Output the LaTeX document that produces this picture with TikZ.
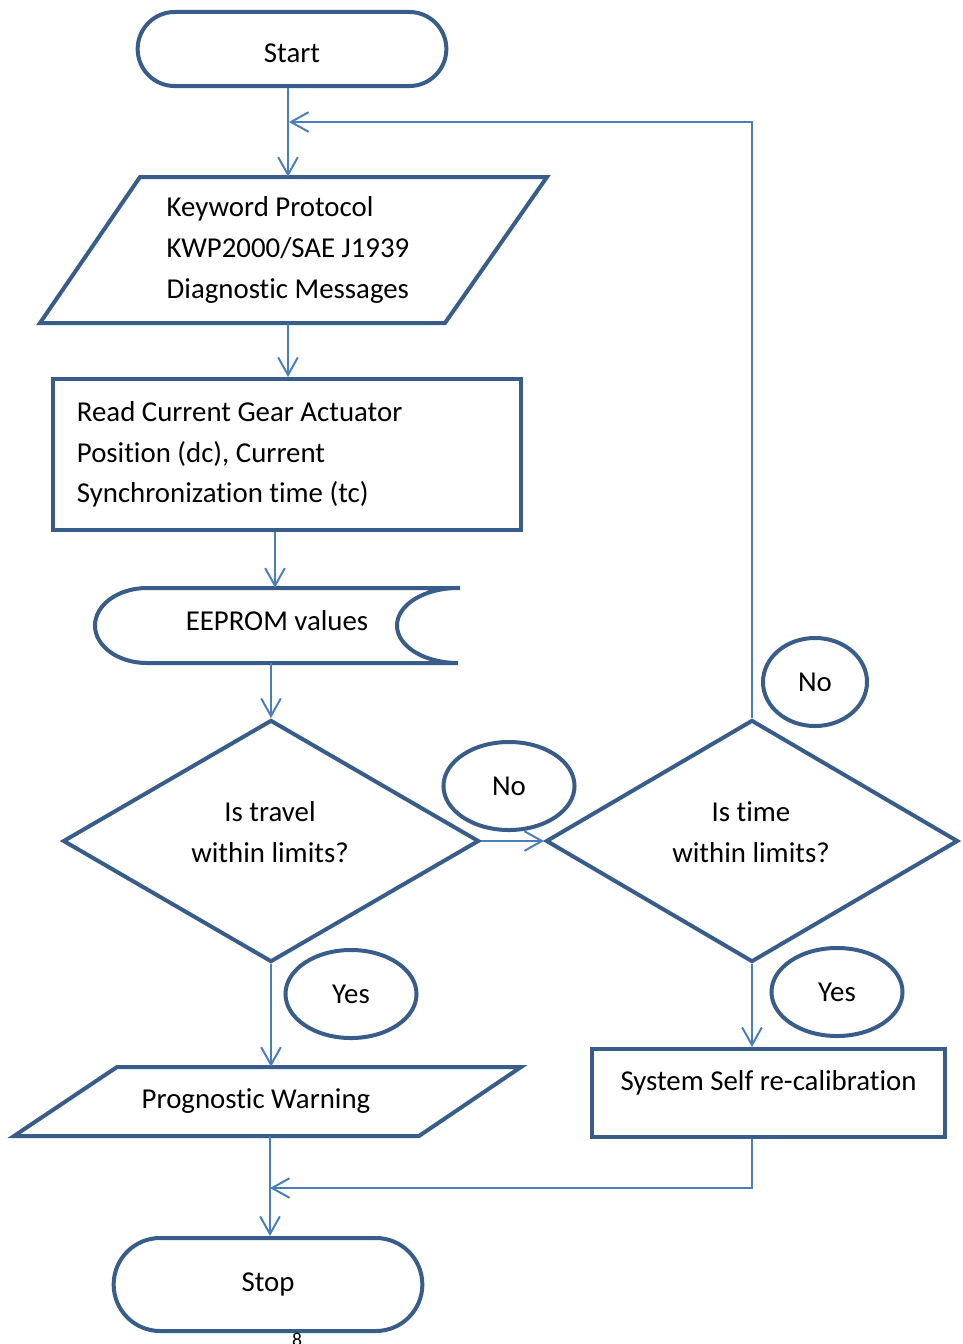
\documentclass[tikz,border=0pt]{standalone}
\usepackage{fontspec}
\setmainfont{Carlito}[Ligatures=NoCommon]
\usepackage{tikz}
\usetikzlibrary{shapes, positioning}
\usetikzlibrary{calc}
\usetikzlibrary{arrows.meta}

\definecolor{shapeblue}{HTML}{385D8A}
\definecolor{lineblue}{HTML}{4A7EBB}

\tikzset{
	outline/.style={draw=shapeblue, line width=2.85pt},
	txt/.style={font=\fontsize{20.5}{29}\selectfont},
	flow/.style={draw=lineblue, line width=1.4pt, -{Straight Barb[length=12.5pt, width=14pt]}},
	term/.style={outline, rounded rectangle, minimum width=7.95cm},
	decision/.style={outline, diamond, aspect=1.72, inner sep=0pt, minimum height=6.05cm},
}

\begin{document}
\begin{tikzpicture}[x=0.025cm, y=-0.025cm]
	\useasboundingbox (0,0) rectangle (962,1344);
	
	% Start and stop
	\node[term, minimum height=1.85cm] (start) at (292,49) {};
	\node[txt] (starttxt) at (292,53) {Start};
	\node[term, minimum height=2.325cm] (stop) at (268,1284.5) {};
	\node[txt] (stoptxt) at (268,1284) {Stop};
	
	% Draw input parallelograms
	\draw[outline] (140,177) -- (547,177) -- (445,323) -- (40,323) -- cycle;
	\node[txt, align=left, inner sep=0pt, minimum height=3.65cm] (kwp) at (288,250)
		{Keyword Protocol\\KWP2000/SAE J1939\\Diagnostic Messages};
	\draw[outline] (117,1067) -- (521,1067) -- (419,1136) -- (14,1136) -- cycle;
	\node[txt, inner sep=0pt, minimum height=1.725cm] (warn) at (256,1101.5) {Prognostic Warning};
	
	% Process boxes
	\node[outline, txt, minimum width=11.7cm, minimum height=3.775cm, text width=10.5cm,
		inner xsep=0.6cm, align=flush left] (rd) at (287,454.5)
		{Read Current Gear Actuator\\Position (dc), Current\\Synchronization time (tc)};
	\node[outline, txt, minimum width=8.825cm, inner sep=0.2cm, text height=0.825cm,
		text depth=0.975cm] (cal) at (768.5,1093) {System Self re-calibration};
	
	% Stored data
	\node[txt, inner sep=0pt, minimum height=1.875cm] (ee) at (275,625.5) {};
	\node[txt] (eetxt) at (277,621) {EEPROM values};
	\draw[outline] (458,588) -- (147,588)
		arc[start angle=90, end angle=270, x radius=1.3cm, y radius=0.9375cm] -- (458,663)
		arc[start angle=270, end angle=90, x radius=1.525cm, y radius=0.9375cm] -- cycle;
	
	% Decisions
	\node[decision, minimum width=10.4cm] (trav) at (271,841) {};
	\node[txt, align=center] (travtxt) at (270,832) {Is travel\\within limits?};
	\node[decision, minimum width=10.3cm] (tim) at (752,841) {};
	\node[txt, align=center] (timtxt) at (751,832) {Is time\\within limits?};
	
	% Yes/No bubbles
	\foreach \nm/\x/\y/\w/\word in {nota/509/786/3.275cm/No, notb/815/682/2.6cm/No,
		yesa/351/994/3.275cm/Yes, yesb/837/992/3.275cm/Yes}
	\node[outline, txt, ellipse, minimum width=\w, minimum height=2.2cm] (\nm) at (\x,\y) {\word};
	
	% Connectors
	\coordinate (loop) at (289,122);
	\coordinate (merge) at (270,1188);
	\draw[flow] (kwp.north |- start.south) -- (kwp.north);
	\draw[flow] (kwp.south) -- (kwp.south |- rd.north);
	\draw[flow] (ee.north |- rd.south) -- (ee.north);
	\draw[flow] (trav.north |- ee.south) -- (trav.north);
	\draw[flow] (trav.east) -- (tim.west);
	\draw[flow] (tim.north) |- (loop);
	\draw[flow] (trav.south) -- (trav.south |- warn.north);
	\draw[flow] (tim.south) -- (tim.south |- cal.north);
	\draw[flow] (tim.south |- cal.south) |- (merge);
	\draw[flow] (merge |- warn.south) -- (merge |- stop.north);
	
	% Page number
	\node[font=\fontsize{14}{16}\selectfont, inner sep=0pt] (pgno) at (297,1340) {8};
\end{tikzpicture}
\end{document}
